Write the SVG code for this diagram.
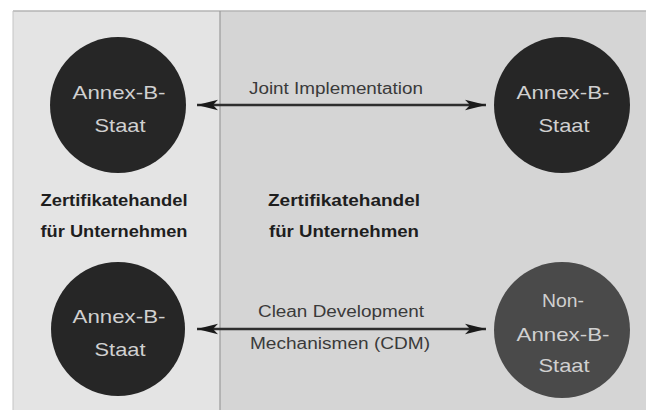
<svg xmlns="http://www.w3.org/2000/svg" width="646" height="410" viewBox="0 0 646 410">
<style>
.lbl{font-family:"Liberation Sans",Arial,sans-serif;font-size:16px;fill:#3a3a3a;text-anchor:middle}
.bold{font-family:"Liberation Sans",Arial,sans-serif;font-size:16px;font-weight:bold;fill:#1e1e1e;text-anchor:middle}
.ct{font-family:"Liberation Sans",Arial,sans-serif;font-size:19px;fill:#d0d0d0;text-anchor:middle}
.dark{fill:#262626}
.mid{fill:#4a4a4a}
.conn{stroke:#2e2e2e;stroke-width:2.4;fill:none}
</style>
<defs>
<marker id="ah" viewBox="0 0 22 12" refX="21" refY="6" markerWidth="22" markerHeight="12" markerUnits="userSpaceOnUse" orient="auto-start-reverse">
<path d="M21,6 L0,0.8 L5,6 L0,11.2 Z" fill="#1a1a1a"/>
</marker>
</defs>
<rect x="0" y="0" width="646" height="410" fill="#ffffff"/>
<g id="panels">
<rect x="13" y="11" width="207" height="399" fill="#e4e4e4"/>
<rect x="220" y="11" width="426" height="399" fill="#d5d5d5"/>
<line x1="13" y1="11" x2="646" y2="11" stroke="#b4b4b4" stroke-width="1.5"/>
<line x1="13" y1="11" x2="13" y2="410" stroke="#c4c4c4" stroke-width="1"/>
<line x1="220" y1="11" x2="220" y2="410" stroke="#9a9a9a" stroke-width="1.2"/>
</g>
<g id="connectors">
<line class="conn" x1="197" y1="105" x2="486" y2="105" marker-start="url(#ah)" marker-end="url(#ah)"/>
<line class="conn" x1="197" y1="329" x2="486" y2="329" marker-start="url(#ah)" marker-end="url(#ah)"/>
<text class="lbl" x="336" y="94" textLength="174" lengthAdjust="spacingAndGlyphs">Joint Implementation</text>
<text class="lbl" x="341" y="317" textLength="166" lengthAdjust="spacingAndGlyphs">Clean Development</text>
<text class="lbl" x="340" y="349" textLength="180" lengthAdjust="spacingAndGlyphs">Mechanismen (CDM)</text>
</g>
<g id="label-left">
<text class="bold" x="114" y="206" textLength="147" lengthAdjust="spacingAndGlyphs">Zertifikatehandel</text>
<text class="bold" x="114" y="237" textLength="147" lengthAdjust="spacingAndGlyphs">für Unternehmen</text>
</g>
<g id="label-right">
<text class="bold" x="344" y="206" textLength="152" lengthAdjust="spacingAndGlyphs">Zertifikatehandel</text>
<text class="bold" x="344" y="237" textLength="150" lengthAdjust="spacingAndGlyphs">für Unternehmen</text>
</g>
<g id="node-tl">
<circle class="dark" cx="118" cy="105" r="68"/>
<text class="ct" x="119" y="99" textLength="93" lengthAdjust="spacingAndGlyphs">Annex-B-</text>
<text class="ct" x="120" y="132" textLength="51" lengthAdjust="spacingAndGlyphs">Staat</text>
</g>
<g id="node-tr">
<circle class="dark" cx="562" cy="105" r="68"/>
<text class="ct" x="563" y="99" textLength="93" lengthAdjust="spacingAndGlyphs">Annex-B-</text>
<text class="ct" x="564" y="132" textLength="51" lengthAdjust="spacingAndGlyphs">Staat</text>
</g>
<g id="node-bl">
<circle class="dark" cx="118" cy="329" r="67"/>
<text class="ct" x="119" y="323" textLength="93" lengthAdjust="spacingAndGlyphs">Annex-B-</text>
<text class="ct" x="120" y="356" textLength="51" lengthAdjust="spacingAndGlyphs">Staat</text>
</g>
<g id="node-br">
<circle class="mid" cx="562" cy="330" r="68"/>
<text class="ct" x="563" y="307" textLength="42" lengthAdjust="spacingAndGlyphs">Non-</text>
<text class="ct" x="563" y="341" textLength="93" lengthAdjust="spacingAndGlyphs">Annex-B-</text>
<text class="ct" x="564" y="372" textLength="51" lengthAdjust="spacingAndGlyphs">Staat</text>
</g>
</svg>
